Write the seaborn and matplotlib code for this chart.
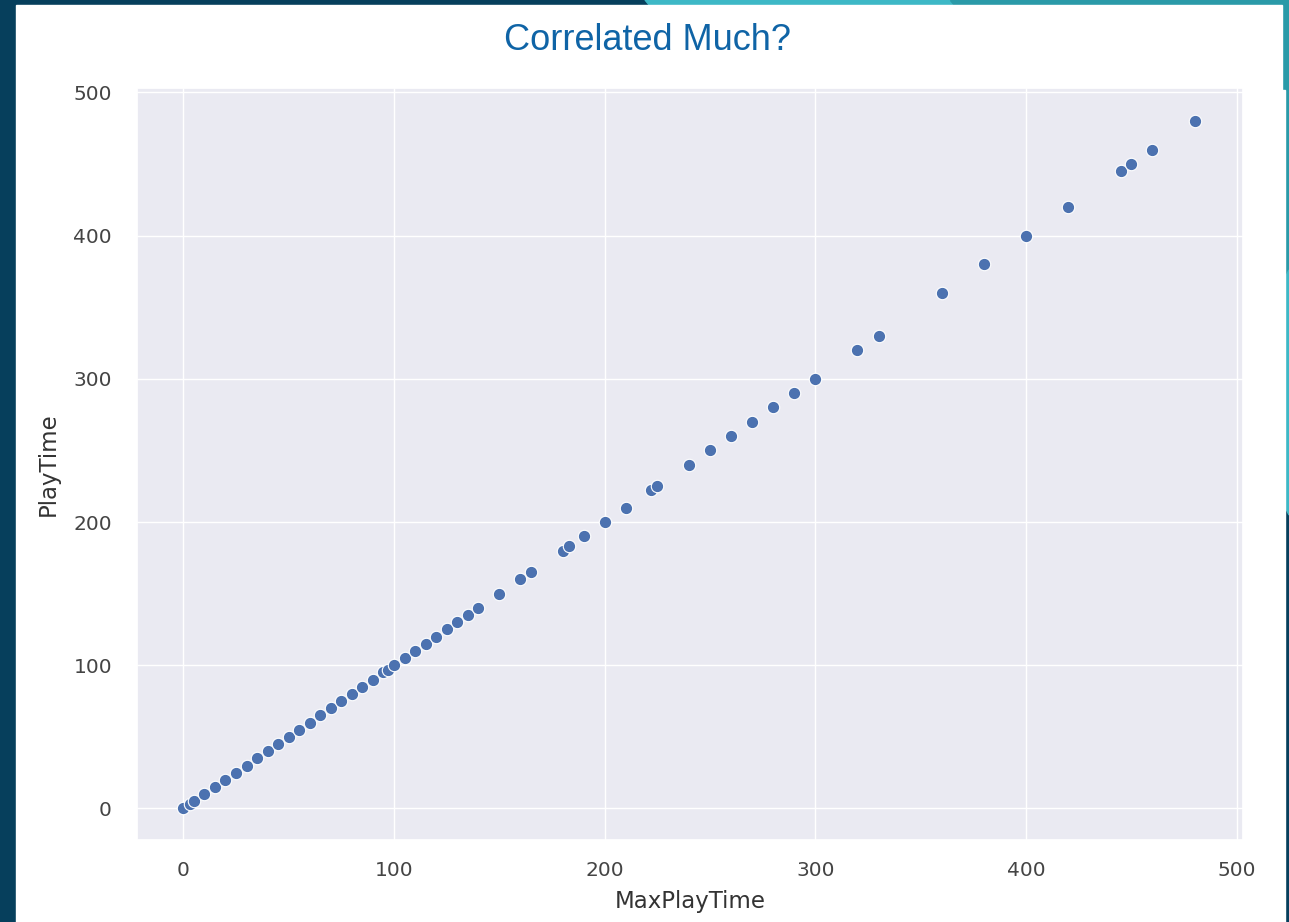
import matplotlib
matplotlib.use("Agg")
import matplotlib.pyplot as plt
from matplotlib.patches import Rectangle, Polygon
import pandas as pd
import seaborn as sns

# values (all points sit on the diagonal)
max_play_time = [0, 3, 5, 10, 15, 20, 25, 30, 35, 40, 45, 50, 55, 60, 65, 70, 75,
                 80, 85, 90, 95, 97, 100, 105, 110, 115, 120, 125, 130, 135, 140,
                 150, 160, 165, 180, 183, 190, 200, 210, 222, 225, 240, 250, 260,
                 270, 280, 290, 300, 320, 330, 360, 380, 400, 420, 445, 450, 460, 480]
play_time = list(max_play_time)

x_ticks = [0, 100, 200, 300, 400, 500]
y_ticks = [0, 100, 200, 300, 400, 500]

NAVY = "#063f5c"
TEAL_LIGHT = "#3db8c6"
TEAL_DARK = "#2a9aa8"

df = pd.DataFrame({"MaxPlayTime": max_play_time, "PlayTime": play_time})

sns.set_theme(style = "darkgrid")
W, H = 1289, 922
fig = plt.figure(figsize = (W / 100, H / 100), dpi = 100)
fig.patch.set_facecolor(NAVY)

# slide decoration (pixel coords -> figure fraction), kept behind the axes
def px_rect(x0, y0, x1, y1, color):
    fig.patches.append(Rectangle((x0 / W, 1 - y1 / H), (x1 - x0) / W, (y1 - y0) / H,
                                 transform = fig.transFigure, color = color, zorder = -10))

def px_poly(points, color):
    pts = [(x / W, 1 - y / H) for x, y in points]
    fig.patches.append(Polygon(pts, closed = True, transform = fig.transFigure,
                               color = color, zorder = -10))

px_poly([(645, 0), (950, 0), (955, 6), (650, 6)], TEAL_LIGHT)
px_poly([(950, 0), (1289, 0), (1289, 6), (955, 6)], TEAL_DARK)
px_rect(1282, 0, 1289, 290, TEAL_DARK)
px_poly([(1284, 280), (1289, 270), (1289, 515), (1284, 505)], TEAL_LIGHT)
px_rect(16, 5, 1282, 922, "white")
px_rect(1282, 90, 1285, 922, "white")

ax = fig.add_axes([137 / W, 1 - 840 / H, (1243 - 137) / W, (840 - 88) / H])
ax.set_zorder(5)
sns.scatterplot(data = df, x = "MaxPlayTime", y = "PlayTime", ax = ax,
                s = 80, color = "#4c72b0", edgecolor = "white", linewidth = 0.8)
ax.set_xlim(-22, 503)
ax.set_ylim(-22, 503)
ax.set_xticks(x_ticks)
ax.set_yticks(y_ticks)
ax.tick_params(axis = "y", labelsize = 14.5, colors = "#444444", pad = 12)
ax.tick_params(axis = "x", labelsize = 14.5, colors = "#444444", pad = 9)
ax.set_xlabel("MaxPlayTime", fontsize = 16.5, color = "#333333", labelpad = 7)
ax.set_ylabel("PlayTime", fontsize = 16.5, color = "#333333", labelpad = 10)

fig.text(648 / W, 1 - 41 / H, "Correlated Much?", ha = "center", va = "center",
         fontsize = 26, color = "#0f64a6", family = "Liberation Sans", zorder = 6)

fig.savefig("out.png", dpi = 100, facecolor = fig.get_facecolor())
